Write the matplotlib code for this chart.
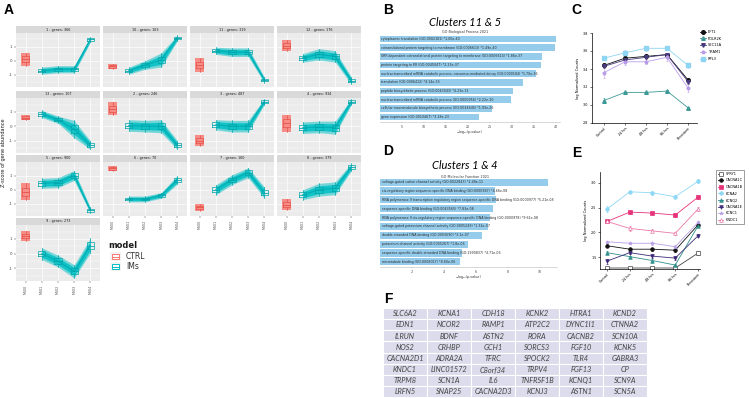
import numpy as np
import matplotlib
matplotlib.use("Agg")
import matplotlib.pyplot as plt
from matplotlib.patches import Rectangle
from matplotlib.lines import Line2D

W, H = 749, 398

# ---- panel A: gene clusters (z-score trajectories) ----
cluster_ids = ["1", "10", "11", "12", "13", "2", "3", "4", "5", "6", "7", "8", "9"]
cluster_genes = [366, 163, 319, 176, 107, 246, 487, 934, 900, 70, 160, 379, 273]
ctrl_mid = [0.1, -0.4, -0.3, 1.05, 0.6, 1.2, -1.0, 0.2, -0.15, 1.5, -1.25, -1.05, 1.2]
ctrl_spread = [0.45, 0.2, 0.5, 0.4, 0.2, 0.45, 0.4, 0.6, 0.6, 0.2, 0.25, 0.4, 0.35]
ims_mid = [
    [-0.7, -0.6, -0.6, 1.5],
    [-0.7, -0.3, 0.05, 1.6],
    [0.7, 0.6, 0.6, -1.35],
    [0.2, 0.45, 0.3, -1.4],
    [0.85, 0.45, -0.2, -1.3],
    [0.05, 0.0, 0.0, -1.3],
    [0.1, 0.0, 0.0, 1.7],
    [-0.1, -0.05, -0.1, 1.7],
    [0.45, 0.5, 1.0, -1.45],
    [-0.65, -0.65, -0.4, 0.7],
    [0.0, 0.7, 1.2, -0.2],
    [-0.35, 0.0, 0.1, 1.6],
    [0.0, -0.5, -1.2, 0.55],
]
ims_spread = [
    [0.25, 0.25, 0.25, 0.2],
    [0.25, 0.3, 0.5, 0.2],
    [0.25, 0.3, 0.3, 0.2],
    [0.3, 0.4, 0.4, 0.25],
    [0.25, 0.25, 0.6, 0.3],
    [0.4, 0.4, 0.45, 0.3],
    [0.35, 0.4, 0.4, 0.2],
    [0.4, 0.4, 0.45, 0.2],
    [0.35, 0.35, 0.35, 0.2],
    [0.2, 0.2, 0.2, 0.3],
    [0.35, 0.35, 0.35, 0.4],
    [0.35, 0.45, 0.45, 0.25],
    [0.4, 0.4, 0.45, 0.5],
]
a_timepoints = ["MS00", "MS01", "MS02", "MS03", "MS04"]

# ---- panel B: GO Biological Process ----
bp_terms = [
    "cytoplasmic translation (GO:0002181) *1.00e-40",
    "cotranslational protein targeting to membrane (GO:0006613) *1.49e-40",
    "SRP-dependent cotranslational protein targeting to membrane (GO:0006614) *1.86e-37",
    "protein targeting to ER (GO:0045047) *2.23e-37",
    "nuclear-transcribed mRNA catabolic process, nonsense-mediated decay (GO:0000184) *1.70e-36",
    "translation (GO:0006412) *4.14e-33",
    "peptide biosynthetic process (GO:0043043) *4.23e-31",
    "nuclear-transcribed mRNA catabolic process (GO:0000956) *2.22e-30",
    "cellular macromolecule biosynthetic process (GO:0034645) *1.93e-26",
    "gene expression (GO:0010467) *3.28e-23",
]
bp_score = [40.0, 39.8, 36.8, 36.7, 35.4, 32.5, 30.3, 29.8, 25.5, 22.5]

# ---- panel D: GO Molecular Function ----
mf_terms = [
    "voltage-gated cation channel activity (GO:0022843) *2.48e-11",
    "cis-regulatory region sequence-specific DNA binding (GO:0000987) *4.66e-08",
    "RNA polymerase II transcription regulatory region sequence-specific DNA binding (GO:0000977) *5.21e-08",
    "sequence-specific DNA binding (GO:0043565) *7.83e-08",
    "RNA polymerase II cis-regulatory region sequence-specific DNA binding (GO:0000978) *9.61e-08",
    "voltage-gated potassium channel activity (GO:0005249) *1.34e-07",
    "double-stranded DNA binding (GO:0003690) *3.1e-07",
    "potassium channel activity (GO:0005267) *1.8e-06",
    "sequence-specific double-stranded DNA binding (GO:1990837) *4.71e-06",
    "microtubule binding (GO:0008017) *8.60e-06",
]
mf_score = [10.5, 7.2, 7.25, 7.05, 6.9, 6.75, 6.4, 5.5, 5.1, 5.0]

# ---- panels C and E: normalized counts ----
stages = ["Control", "24 hrs", "48 hrs", "96 hrs", "Persistent"]
c_genes = ["EFT1", "POLR2K", "SEC11A", "TRAM1", "RPL3"]
c_mean = [
    [3.44, 3.52, 3.54, 3.56, 3.28],
    [3.05, 3.14, 3.14, 3.155, 2.97],
    [3.43, 3.50, 3.53, 3.56, 3.26],
    [3.36, 3.48, 3.48, 3.53, 3.19],
    [3.52, 3.58, 3.63, 3.63, 3.44],
]
c_err = [
    [0.02, 0.03, 0.02, 0.02, 0.02],
    [0.03, 0.01, 0.01, 0.01, 0.01],
    [0.02, 0.03, 0.02, 0.02, 0.03],
    [0.06, 0.04, 0.02, 0.04, 0.05],
    [0.02, 0.03, 0.03, 0.02, 0.03],
]
e_genes = ["SPRY1", "CACNA1C", "CACNA1B", "KCNA2", "KCNQ2", "CACNA1E", "KCNC1", "KNDC1"]
e_mean = [
    [1.28, 1.28, 1.28, 1.28, 1.58],
    [1.73, 1.66, 1.66, 1.64, 2.15],
    [2.22, 2.41, 2.39, 2.35, 2.71],
    [2.47, 2.82, 2.80, 2.72, 3.03],
    [1.59, 1.51, 1.43, 1.34, 2.13],
    [1.42, 1.59, 1.52, 1.48, 1.93],
    [1.81, 1.78, 1.78, 1.71, 2.20],
    [2.22, 2.08, 2.03, 1.98, 2.47],
]
e_err = [
    [0.02, 0.02, 0.02, 0.02, 0.04],
    [0.03, 0.03, 0.03, 0.03, 0.03],
    [0.04, 0.03, 0.02, 0.04, 0.04],
    [0.06, 0.02, 0.04, 0.03, 0.04],
    [0.03, 0.02, 0.03, 0.03, 0.03],
    [0.05, 0.03, 0.04, 0.04, 0.03],
    [0.02, 0.02, 0.03, 0.03, 0.03],
    [0.04, 0.05, 0.03, 0.03, 0.04],
]

# ---- panel F: gene table ----
table_genes = [
    ["SLC6A2", "KCNA1", "CDH18", "KCNK2", "HTRA1", "KCND2"],
    ["EDN1", "NCOR2", "RAMP1", "ATP2C2", "DYNC1I1", "CTNNA2"],
    ["ILRUN", "BDNF", "ASTN2", "RORA", "CACNB2", "SCN10A"],
    ["NOS2", "CRHBP", "GCH1", "SORCS3", "FGF10", "KCNK5"],
    ["CACNA2D1", "ADRA2A", "TFRC", "SPOCK2", "TLR4", "GABRA3"],
    ["KNDC1", "LINC01572", "C8orf34", "TRPV4", "FGF13", "CP"],
    ["TRPM8", "SCN1A", "IL6", "TNFRSF1B", "KCNQ1", "SCN9A"],
    ["LRFN5", "SNAP25", "CACNA2D3", "KCNJ3", "ASTN1", "SCN5A"],
]

RED = "#F8766D"
TEAL = "#00BFC4"
BAR = "#95cbeb"

fig = plt.figure(figsize=(7.49, 3.98), dpi=100)


def add_ax(x, y, w, h):
    return fig.add_axes([x / W, 1 - (y + h) / H, w / W, h / H])


def ftext(x, y, s, **kw):
    fig.text(x / W, 1 - y / H, s, **kw)


def box_stats(mid, spread):
    return dict(med=mid, q1=mid - 0.45 * spread, q3=mid + 0.45 * spread,
                whislo=mid - spread, whishi=mid + spread)


# panel letters
for letter, (lx, ly) in zip("ABCDEF", [(4, 3), (383, 3), (571, 3), (383, 144), (572, 146), (384, 292)]):
    ftext(lx, ly, letter, fontsize=10, fontweight="bold", va="top", ha="left", family="Liberation Sans")

# ---------- panel A ----------
col_x = [16, 103, 190, 277]
col_w = 84
row_y = [26, 91, 155, 218]
strip_h = 7
row_h = [61, 62, 61, 63]
x_ims = np.arange(2, 6)

for i, cid in enumerate(cluster_ids):
    r, c = divmod(i, 4)
    x0, y0 = col_x[c], row_y[r]
    strip = add_ax(x0, y0, col_w, strip_h)
    strip.set_facecolor("#d9d9d9")
    strip.set_xticks([]); strip.set_yticks([])
    for s in strip.spines.values():
        s.set_visible(False)
    strip.text(0.5, 0.5, f"{cid} - genes: {cluster_genes[i]}", ha="center", va="center",
               fontsize=2.4, color="#1a1a1a", transform=strip.transAxes)

    ax = add_ax(x0, y0 + strip_h, col_w, row_h[r] - strip_h)
    ax.set_facecolor("#ebebeb")
    ax.set_xlim(0.4, 5.6)
    ax.set_ylim(-1.85, 1.95)
    ax.set_yticks([-1, 0, 1])
    ax.set_yticks([-1.5, -0.5, 0.5, 1.5], minor=True)
    ax.set_xticks(range(1, 6))
    ax.grid(True, which="major", color="white", lw=0.5)
    ax.grid(True, which="minor", axis="y", color="white", lw=0.25)
    ax.set_axisbelow(True)
    for s in ax.spines.values():
        s.set_visible(False)
    ax.tick_params(which="minor", length=0)

    mid = np.array(ims_mid[i])
    spr = np.array(ims_spread[i])
    ax.fill_between(x_ims, mid - spr, mid + spr, color=TEAL, alpha=0.5, lw=0)
    ax.fill_between(x_ims, mid - 0.6 * spr, mid + 0.6 * spr, color=TEAL, alpha=0.85, lw=0)
    ax.plot(x_ims, mid, color="#00aeb3", lw=0.8)
    ax.bxp([box_stats(m, s) for m, s in zip(mid, spr)], positions=x_ims, widths=0.45,
           showfliers=False, boxprops=dict(color="#00a6ab", lw=0.5),
           whiskerprops=dict(color="#00a6ab", lw=0.5), capprops=dict(lw=0),
           medianprops=dict(color="#00a6ab", lw=0.6))
    ax.fill_between([0.72, 1.28], ctrl_mid[i] - ctrl_spread[i], ctrl_mid[i] + ctrl_spread[i],
                    color=RED, alpha=0.8, lw=0)
    ax.bxp([box_stats(ctrl_mid[i], ctrl_spread[i])], positions=[1], widths=0.45,
           showfliers=False, boxprops=dict(color="#e5524a", lw=0.5),
           whiskerprops=dict(color="#e5524a", lw=0.5), capprops=dict(lw=0),
           medianprops=dict(color="#e5524a", lw=0.6))

    bottom = (r == 3) or (r == 2 and c > 0)
    ax.set_xticks(range(1, 6))
    if bottom:
        ax.set_xticklabels(a_timepoints, rotation=90, fontsize=2.3, color="#4d4d4d")
        ax.tick_params(axis="x", length=1.5, width=0.3, color="#333333", pad=1)
    else:
        ax.set_xticklabels([])
        ax.tick_params(axis="x", length=0)
    if c == 0:
        ax.set_yticklabels(["-1", "0", "1"], fontsize=2.8, color="#4d4d4d")
        ax.tick_params(axis="y", length=1.5, width=0.3, color="#333333", pad=1)
    else:
        ax.set_yticklabels([])
        ax.tick_params(axis="y", length=0)

ftext(4, 153, "Z-score of gene abundance", rotation=90, fontsize=3.6, va="center", ha="center", color="#1a1a1a")

# model legend
ftext(108, 246, "model", fontsize=6, fontweight="bold", va="center", ha="left", color="#1a1a1a")
for k, (lab, col) in enumerate([("CTRL", RED), ("IMs", TEAL)]):
    yc = 256.5 + k * 10
    fig.patches.append(Rectangle((110 / W, 1 - (yc + 4.5) / H), 11 / W, 9 / H,
                                 transform=fig.transFigure, facecolor="#f2f2f2", edgecolor="none"))
    fig.patches.append(Rectangle((112 / W, 1 - (yc + 2.5) / H), 7 / W, 5 / H,
                                 transform=fig.transFigure, facecolor="white", edgecolor=col, lw=0.7))
    fig.lines.append(Line2D([112 / W, 119 / W], [1 - yc / H, 1 - yc / H], transform=fig.transFigure,
                            color=col, lw=0.7))
    ftext(126, yc, lab, fontsize=5.5, va="center", ha="left", color="#333333")


# ---------- panels B and D ----------
def go_panel(x0, y0, w, h, scores, terms, px_per_unit, ticks, title, subtitle, title_y):
    ax = add_ax(x0, y0, w, h)
    n = len(scores)
    pos = np.arange(n)
    ax.barh(pos, scores, height=0.8, color=BAR, lw=0)
    for p, t in zip(pos, terms):
        ax.text(0.15, p, t, fontsize=2.3, va="center", ha="left", color="#2b2b2b")
    ax.set_xlim(0, w / px_per_unit)
    ax.set_ylim(n - 0.42, -0.58)
    ax.set_yticks([])
    ax.set_xticks(ticks)
    ax.set_xticklabels([str(t) for t in ticks], fontsize=2.3, color="#444444")
    ax.tick_params(axis="x", length=1, width=0.3, color="#999999", pad=1)
    for s in ["top", "right", "left"]:
        ax.spines[s].set_visible(False)
    ax.spines["bottom"].set_color("#bbbbbb")
    ax.spines["bottom"].set_linewidth(0.4)
    ax.set_xlabel("\u2212log\u2081\u2080(p\u2011value)", fontsize=2.4, labelpad=1, color="#333333")
    ftext(465, title_y, title, fontsize=8, style="italic", ha="center", va="center", family="Lato")
    ftext(465, title_y + 10.5, subtitle, fontsize=2.4, ha="center", va="center", color="#333333")
    return ax


go_panel(380, 34, 180, 88, bp_score, bp_terms, 4.4, [5, 10, 15, 20, 25, 30, 35, 40],
         "Clusters 11 & 5", "GO Biological Process 2021", 22)
go_panel(380, 177, 177, 90, mf_score, mf_terms, 16.0, [2, 4, 6, 8, 10],
         "Clusters 1 & 4", "GO Molecular Function 2021", 166)


# ---------- panels C and E ----------
def style_line_ax(ax, yticks):
    ax.set_xticks(range(len(stages)))
    ax.set_xticklabels(stages, rotation=45, ha="right", fontsize=2.4, rotation_mode="anchor")
    ax.set_yticks(yticks)
    ax.set_yticklabels([f"{t:.1f}" for t in yticks], fontsize=2.4)
    ax.tick_params(length=1.5, width=0.4, pad=1)
    for s in ["top", "right"]:
        ax.spines[s].set_visible(False)
    for s in ["left", "bottom"]:
        ax.spines[s].set_linewidth(0.5)
    ax.set_ylabel("log Normalized Counts", fontsize=2.6, labelpad=2)


axc = add_ax(592, 33, 105, 90)
c_colors = ["#111111", "#3d9a96", "#4a3b7c", "#b99ce8", "#8fd4f2"]
c_markers = ["o", "^", "v", "*", "s"]
c_handles = []
for g, m, e, col, mk in zip(c_genes, c_mean, c_err, c_colors, c_markers):
    axc.errorbar(range(len(stages)), m, yerr=e, color=col, marker=mk, ms=2.6, lw=0.6,
                 elinewidth=0.4, capsize=1, capthick=0.4)
    c_handles.append(Line2D([], [], color=col, marker=mk, ms=2.6, lw=0.6))
axc.set_xlim(-0.57, 4.43)
axc.set_ylim(2.8, 3.8)
style_line_ax(axc, [2.8, 3.0, 3.2, 3.4, 3.6, 3.8])
fig.legend(c_handles, c_genes, loc="upper left", bbox_to_anchor=(700 / W, 1 - 30 / H), frameon=False,
           fontsize=2.6, handlelength=1.6, labelspacing=0.75, handletextpad=0.6, borderaxespad=0,
           borderpad=0)

axe = add_ax(600, 172, 100, 97)
e_colors = ["#444444", "#111111", "#e6337a", "#8dd8f5", "#2f8f8a", "#3c2a78", "#b9a0e8", "#ea78a8"]
e_markers = ["s", "o", "s", "o", "^", "v", "*", "^"]
e_filled = [False, True, True, True, True, True, True, False]
e_handles = []
for g, m, e, col, mk, fl in zip(e_genes, e_mean, e_err, e_colors, e_markers, e_filled):
    fc = col if fl else "white"
    axe.errorbar(range(len(stages)), m, yerr=e, color=col, marker=mk, ms=2.6, lw=0.6, mfc=fc,
                 mew=0.5, elinewidth=0.4, capsize=1, capthick=0.4)
    e_handles.append(Line2D([], [], color=col, marker=mk, ms=2.6, lw=0.6, mfc=fc, mew=0.5))
axe.set_xlim(-0.31, 4.09)
axe.set_ylim(1.26, 3.22)
style_line_ax(axe, [1.5, 2.0, 2.5, 3.0])
leg = fig.legend(e_handles, e_genes, loc="upper left", bbox_to_anchor=(716 / W, 1 - 170 / H), frameon=True,
                 fontsize=2.5, handlelength=1.6, labelspacing=0.75, handletextpad=0.6, borderaxespad=0,
                 borderpad=0.5, fancybox=False)
leg.get_frame().set_edgecolor("#555555")
leg.get_frame().set_linewidth(0.5)

# ---------- panel F ----------
axf = add_ax(383, 308, 264, 89)
nrow, ncol = len(table_genes), len(table_genes[0])
axf.set_xlim(0, ncol)
axf.set_ylim(nrow, 0)
axf.axis("off")
for ri, row in enumerate(table_genes):
    for ci, gene in enumerate(row):
        axf.add_patch(Rectangle((ci, ri), 1, 1, facecolor="#dcdcec", edgecolor="white", lw=0.8))
        axf.text(ci + 0.5, ri + 0.52, gene, ha="center", va="center", fontsize=5.3, style="italic",
                 family="Lato", color="#444444")

fig.savefig("out.png", dpi=100)
